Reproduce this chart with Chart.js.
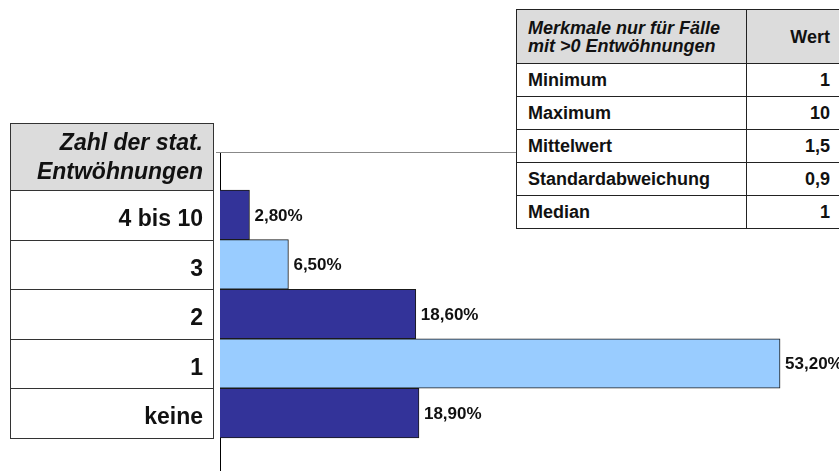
<!DOCTYPE html>
<html><head><meta charset="utf-8">
<script src="https://cdn.jsdelivr.net/npm/chart.js@4"></script>
<style>
html,body{margin:0;padding:0;background:#fff;overflow:hidden}
#wrap{position:relative;width:839px;height:471px;font-family:"Liberation Sans",Arial,sans-serif;overflow:hidden}
#c{position:absolute;left:0;top:0}
#stats{position:absolute;left:516px;top:9px;border-collapse:collapse;background:#fff;font-weight:bold;font-size:18px;color:#111;table-layout:fixed;width:330px}
#stats td{border:1px solid #222;padding:0 0 0 11px;height:33px;box-sizing:border-box;white-space:nowrap}
#stats td.v{text-align:right;padding:0 16px 0 0}
#stats tr.h td{background:#dcdcdc;height:54px;line-height:18px}
#stats tr.h td.k{font-style:italic}
</style></head>
<body><div id="wrap"><canvas id="c" width="839" height="471"></canvas><table id="stats"><colgroup><col style="width:230px"><col style="width:100px"></colgroup><tbody id="sb"></tbody></table></div>
<script>
// ---- data ----
const categories = ['keine', '1', '2', '3', '4 bis 10'];
const shares = [18.9, 53.2, 18.6, 6.5, 2.8];
const barColors = ['#333399', '#99ccff', '#333399', '#99ccff', '#333399'];
const axisTitle = ['Zahl der stat.', 'Entwöhnungen'];
const statHeader = ['Merkmale nur für Fälle', 'mit >0 Entwöhnungen'];
const statValueHeader = 'Wert';
const statLabels = ['Minimum', 'Maximum', 'Mittelwert', 'Standardabweichung', 'Median'];
const statValues = ['1', '10', '1,5', '0,9', '1'];

// ---- stats table ----
const sb = document.getElementById('sb');
let html = '<tr class="h"><td class="k">' + statHeader.join('<br>') + '</td><td class="v">' + statValueHeader + '</td></tr>';
statLabels.forEach((l, i) => { html += '<tr><td>' + l + '</td><td class="v">' + statValues[i] + '</td></tr>'; });
sb.innerHTML = html;

const FONT = '"Liberation Sans", Arial, sans-serif';

const decor = {
  id: 'decor',
  beforeDraw(chart) {
    const ctx = chart.ctx, y = chart.scales.y;
    const L = 10.5, R = 213.5;
    ctx.save();
    ctx.fillStyle = '#fff';
    ctx.fillRect(0, 0, chart.width, chart.height);
    ctx.strokeStyle = '#333';
    ctx.lineWidth = 1;
    categories.forEach((c, i) => {
      const t = Math.round(y.getPixelForValue(i + 0.5)) + 0.5;
      const b = Math.round(y.getPixelForValue(i - 0.5)) + 0.5;
      ctx.strokeRect(L, t, R - L, b - t);
    });
    const top = Math.round(y.getPixelForValue(categories.length - 0.5)) + 0.5;
    const hTop = top - 67;
    ctx.fillStyle = '#dcdcdc';
    ctx.fillRect(L, hTop, R - L, top - hTop);
    ctx.strokeRect(L, hTop, R - L, top - hTop);
    ctx.fillStyle = '#111';
    ctx.font = 'italic bold 23px ' + FONT;
    ctx.textAlign = 'right';
    ctx.textBaseline = 'alphabetic';
    ctx.fillText(axisTitle[0], 203, hTop + 26);
    ctx.fillText(axisTitle[1], 203, hTop + 55);
    ctx.restore();
  },
  afterDatasetsDraw(chart) {
    const ctx = chart.ctx;
    const meta = chart.getDatasetMeta(0);
    ctx.save();
    ctx.font = 'bold 17px ' + FONT;
    ctx.fillStyle = '#111';
    ctx.textAlign = 'left';
    ctx.textBaseline = 'middle';
    meta.data.forEach((bar, i) => {
      const txt = shares[i].toFixed(2).replace('.', ',') + '%';
      ctx.fillText(txt, bar.x + 5, bar.y + 1);
    });
    ctx.restore();
  },
  afterDraw(chart) {
    const ctx = chart.ctx, a = chart.chartArea;
    ctx.save();
    ctx.strokeStyle = '#888';
    ctx.lineWidth = 1;
    ctx.beginPath();
    ctx.moveTo(a.left - 4, Math.round(a.top) + 0.5);
    ctx.lineTo(516, Math.round(a.top) + 0.5);
    ctx.stroke();
    ctx.restore();
  }
};

new Chart(document.getElementById('c'), {
  type: 'bar',
  data: {
    datasets: [{
      data: shares.map((v, i) => ({ x: v, y: i })),
      backgroundColor: barColors,
      borderColor: '#1a1a1a',
      borderWidth: 1,
      barPercentage: 1,
      categoryPercentage: 1
    }]
  },
  options: {
    indexAxis: 'y',
    responsive: false,
    animation: false,
    devicePixelRatio: 1,
    layout: { padding: { left: 10, top: 152, right: 0, bottom: 0 } },
    plugins: { legend: { display: false }, tooltip: { enabled: false } },
    scales: {
      x: { type: 'linear', display: false, min: 0, max: 58.8 },
      y: {
        type: 'linear', position: 'left', min: -1.17, max: 5.27, offset: false,
        grid: { display: false, drawTicks: false, offset: false },
        border: { display: true, color: '#000', width: 1 },
        // label baseline sits slightly below the bar centre, as in the original
        afterBuildTicks(scale) { scale.ticks = categories.map((c, i) => ({ value: i - 0.1 })); },
        afterFit(scale) { scale.width = 210; scale.paddingTop = 0; scale.paddingBottom = 0; },
        ticks: {
          padding: 17,
          color: '#111',
          font: { family: FONT, size: 23, weight: 'bold' },
          callback: (v) => categories[Math.round(v)]
        }
      }
    }
  },
  plugins: [decor]
});
</script>
</body></html>
